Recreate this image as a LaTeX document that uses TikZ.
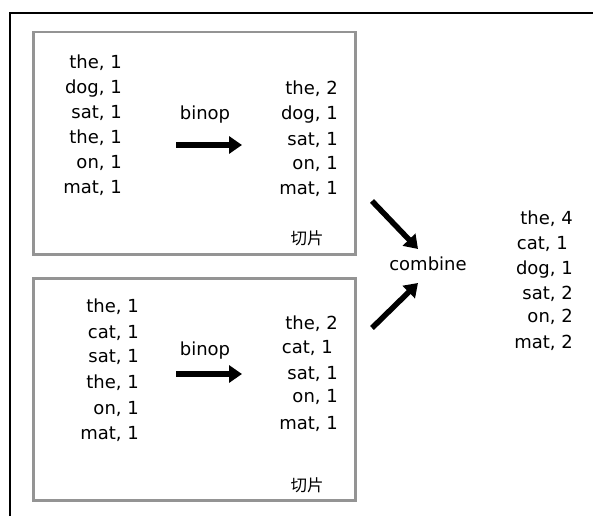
\documentclass[tikz,border=0pt]{standalone}
\usepackage{fontspec}
\setmainfont{DejaVu Sans}
\newfontfamily\cjk{Noto Sans CJK SC}
\usetikzlibrary{arrows.meta}

\begin{document}
\begin{tikzpicture}[x=1pt,y=-1pt,
  word/.style={anchor=base east, inner sep=0pt, font=\fontsize{18}{20}\selectfont},
  lbl/.style={inner sep=0pt, font=\fontsize{18}{20}\selectfont},
  slice/.style={draw=black!42, line width=2.5pt, inner sep=0pt, anchor=north west},
  tag/.style={inner sep=0pt, font=\cjk\fontsize{16.5}{18}\selectfont},
  fat/.style={line width=5.5pt, -{Triangle[length=13pt,width=17pt]}},
]
\useasboundingbox (0,0) rectangle (593,516);

% outer frame (top and left edges)
\coordinate (fTL) at (10,13);
\coordinate (fTR) at (593,13);
\coordinate (fBL) at (10,516);
\draw[line width=2pt] (fBL) -- (fTL) -- (fTR);

% the two slices
\node[slice, minimum width=322pt, minimum height=222pt] (sliceA) at (32,31) {};
\node[slice, minimum width=322pt, minimum height=222pt] (sliceB) at (32,277) {};
\node[tag] (tagA) at (307,238) {切片};
\node[tag] (tagB) at (307,485) {切片};

% first slice: input pairs
\foreach \t/\x/\y [count=\i] in {{the, 1}/122/69, {dog, 1}/122/93, {sat, 1}/122/118,
    {the, 1}/122/143, {on, 1}/122/168, {mat, 1}/122/193}
  \node[word] (ain\i) at (\x,\y) {\t};
% first slice: reduced pairs
\foreach \t/\x/\y [count=\i] in {{the, 2}/338/95, {dog, 1}/338/119, {sat, 1}/338/145,
    {on, 1}/338/169, {mat, 1}/338/194}
  \node[word] (aout\i) at (\x,\y) {\t};

% second slice: input pairs
\foreach \t/\x/\y [count=\i] in {{the, 1}/139/312, {cat, 1}/139/338, {sat, 1}/139/362,
    {the, 1}/139/388, {on, 1}/139/414, {mat, 1}/139/439}
  \node[word] (bin\i) at (\x,\y) {\t};
% second slice: reduced pairs
\foreach \t/\x/\y [count=\i] in {{the, 2}/338/329, {cat, 1}/333/353, {sat, 1}/338/379,
    {on, 1}/338/402, {mat, 1}/338/429}
  \node[word] (bout\i) at (\x,\y) {\t};

% combined result
\foreach \t/\x/\y [count=\i] in {{the, 4}/573/224, {cat, 1}/568/249, {dog, 1}/573/274,
    {sat, 2}/573/299, {on, 2}/573/322, {mat, 2}/573/348}
  \node[word] (res\i) at (\x,\y) {\t};

% binop steps
\node[lbl] (binA) at (205,115) {binop};
\node[lbl] (binB) at (205,351) {binop};
\coordinate (binAs) at (176,145);
\coordinate (binAe) at (242,145);
\coordinate (binBs) at (176,374);
\coordinate (binBe) at (242,374);
\draw[fat] (binAs) -- (binAe);
\draw[fat] (binBs) -- (binBe);

% combine step
\node[lbl] (comb) at (428,264) {combine};
\coordinate (cAs) at (372,201);
\coordinate (cAe) at (418,249);
\coordinate (cBs) at (372,328);
\coordinate (cBe) at (418,283);
\draw[fat] (cAs) -- (cAe);
\draw[fat] (cBs) -- (cBe);
\end{tikzpicture}
\end{document}
